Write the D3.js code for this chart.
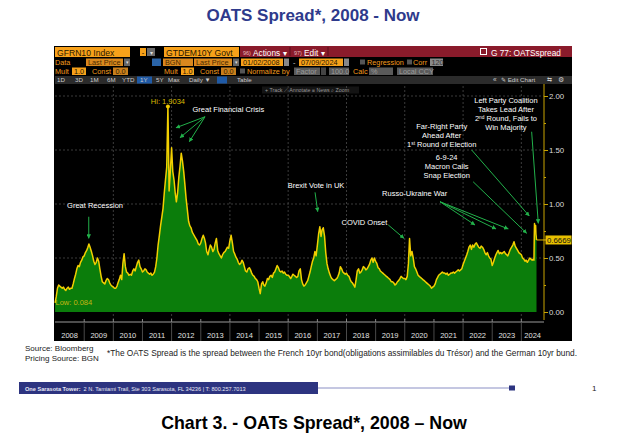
<!DOCTYPE html>
<html><head><meta charset="utf-8">
<script src="https://cdn.jsdelivr.net/npm/d3@7"></script>
<style>body{margin:0;background:#fff}svg{display:block;font-family:"Liberation Sans",Arial,sans-serif}</style>
</head><body><svg id="c" width="632" height="446"></svg>
<script>
// ---------- DATA (semi-monthly readings: 1st and 16th of each month) ----------
const spread2008 = [0.084,0.14,0.22,0.25,0.24,0.23,0.22,0.23,0.21,0.20,0.22,0.23,0.21,0.22,0.22,0.26,0.31,0.35,0.40,0.43,0.42,0.46,0.48,0.51];
const spread2009 = [0.52,0.55,0.57,0.60,0.63,0.60,0.56,0.52,0.47,0.44,0.46,0.50,0.47,0.40,0.33,0.28,0.27,0.26,0.29,0.31,0.30,0.27,0.25,0.24];
const spread2010 = [0.23,0.22,0.22,0.24,0.27,0.30,0.34,0.30,0.45,0.54,0.42,0.37,0.36,0.34,0.35,0.34,0.38,0.40,0.38,0.42,0.46,0.48,0.42,0.40];
const spread2011 = [0.37,0.38,0.40,0.39,0.37,0.36,0.35,0.36,0.34,0.35,0.37,0.42,0.50,0.62,0.71,0.80,0.88,0.96,1.10,1.22,1.34,1.9034,1.12,1.30];
const spread2012 = [1.52,1.30,1.22,1.10,1.02,1.10,1.25,1.35,1.47,1.40,1.30,1.18,1.05,0.95,0.84,0.80,0.78,0.74,0.72,0.70,0.68,0.66,0.63,0.62];
const spread2013 = [0.64,0.68,0.71,0.68,0.64,0.56,0.53,0.58,0.62,0.60,0.56,0.58,0.64,0.68,0.57,0.54,0.52,0.50,0.53,0.55,0.56,0.58,0.60,0.59];
const spread2014 = [0.66,0.71,0.64,0.56,0.54,0.51,0.49,0.46,0.44,0.45,0.48,0.46,0.42,0.38,0.37,0.40,0.41,0.39,0.36,0.34,0.33,0.31,0.30,0.28];
const spread2015 = [0.22,0.17,0.26,0.28,0.25,0.24,0.27,0.31,0.30,0.33,0.34,0.32,0.36,0.37,0.40,0.43,0.41,0.38,0.37,0.38,0.36,0.37,0.35,0.34];
const spread2016 = [0.34,0.33,0.31,0.33,0.35,0.34,0.33,0.32,0.33,0.38,0.40,0.30,0.26,0.24,0.25,0.27,0.29,0.33,0.37,0.42,0.47,0.50,0.56,0.52];
const spread2017 = [0.62,0.72,0.79,0.70,0.76,0.78,0.70,0.55,0.45,0.40,0.36,0.33,0.31,0.30,0.29,0.30,0.31,0.33,0.36,0.42,0.40,0.37,0.36,0.35];
const spread2018 = [0.36,0.34,0.33,0.30,0.28,0.27,0.25,0.23,0.30,0.38,0.40,0.36,0.37,0.39,0.42,0.41,0.39,0.40,0.42,0.44,0.48,0.50,0.46,0.50];
const spread2019 = [0.47,0.45,0.41,0.40,0.38,0.37,0.36,0.35,0.34,0.33,0.32,0.31,0.30,0.28,0.28,0.27,0.25,0.26,0.28,0.29,0.31,0.33,0.32,0.31];
const spread2020 = [0.31,0.30,0.33,0.45,0.68,0.52,0.56,0.50,0.42,0.40,0.37,0.34,0.33,0.32,0.31,0.30,0.29,0.28,0.27,0.26,0.25,0.24,0.22,0.23];
const spread2021 = [0.24,0.26,0.30,0.32,0.34,0.35,0.36,0.37,0.36,0.36,0.35,0.36,0.34,0.35,0.36,0.36,0.37,0.36,0.37,0.38,0.39,0.38,0.39,0.40];
const spread2022 = [0.44,0.47,0.50,0.53,0.56,0.60,0.62,0.58,0.62,0.60,0.63,0.64,0.62,0.60,0.59,0.61,0.60,0.58,0.55,0.53,0.55,0.52,0.50,0.49];
const spread2023 = [0.43,0.46,0.50,0.53,0.55,0.57,0.54,0.55,0.54,0.55,0.56,0.54,0.53,0.52,0.55,0.58,0.60,0.62,0.65,0.61,0.59,0.57,0.55,0.54];
const spread2024 = [0.53,0.50,0.49,0.47,0.48,0.46,0.48,0.50,0.49,0.48,0.49];
const finalDates  = ["2024-06-07","2024-06-11","2024-06-14","2024-06-21","2024-06-28","2024-07-02","2024-07-05","2024-07-09"];
const finalValues = [0.48,0.70,0.82,0.76,0.80,0.72,0.70,0.6669];

const yearLabels  = ["2008","2009","2010","2011","2012","2013","2014","2015","2016","2017","2018","2019","2020","2021","2022","2023","2024"];
const yTicks      = [0,0.5,1,1.5,2];
const yTickLabels = ["0.00","0.50","1.00","1.50","2.00"];
const yMinorTicks = [0.25,0.75,1.25,1.75];
const gridYears   = [2010,2012,2014,2016,2018,2020,2022,2024];
const hiValue = 1.9034, lowValue = 0.084, lastValue = 0.6669;

const mainTitle = "OATS Spread*, 2008 - Now";
const chartCaption = "Chart 3. - OATs Spread*, 2008 \u2013 Now";
const footnote = "*The OATS Spread is the spread between the French 10yr bond(obligations assimilables du Trésor) and the German 10yr bund.";

// annotations in data space: t = decimal year, v = spread
const annoTexts = [
  {lines:["Great Recession"], t:2009.372, v:0.963},
  {lines:["Great Financial Crisis"], t:2013.945, v:1.852},
  {lines:["Brexit Vote in UK"], t:2016.954, v:1.148},
  {lines:["COVID Onset"], t:2018.617, v:0.810},
  {lines:["Russo-Ukraine War"], t:2020.339, v:1.074},
  {lines:["6-9-24","Macron Calls","Snap Election"], t:2021.437, v:1.403},
  {lines:["Far-Right Party","Ahead After","1^st^ Round of Election"], t:2021.266, v:1.690},
  {lines:["Left Party Coalition","Takes Lead After","2^nd^ Round, Fails to","Win Majority"], t:2023.472, v:1.931}
];
const annoArrows = [
  [2009.156,0.882,2009.156,0.682],
  [2013.146,1.808,2012.151,1.706],[2013.146,1.808,2012.288,1.614],[2013.146,1.808,2012.607,1.577],
  [2016.920,1.108,2017.012,0.929],
  [2019.434,0.806,2019.973,0.682],
  [2021.207,1.021,2022.408,0.806],[2021.207,1.021,2023.129,0.769],[2021.207,1.021,2023.551,0.769],
  [2022.345,1.206,2024.182,0.729],
  [2022.295,1.500,2024.271,0.889],
  [2024.353,1.669,2024.580,0.821]
];

// ---------- BUILD SERIES ----------
const yearly = [spread2008,spread2009,spread2010,spread2011,spread2012,spread2013,spread2014,spread2015,spread2016,spread2017,spread2018,spread2019,spread2020,spread2021,spread2022,spread2023,spread2024];
const parse = d3.timeParse("%Y-%m-%d");
const series = [];
yearly.forEach((arr,i)=>{
  const yr = 2008+i;
  arr.forEach((v,k)=>{
    const d = new Date(yr, Math.floor(k/2), k%2 ? 16 : (i===0&&k===0?2:1));
    series.push({d, v});
  });
});
finalDates.forEach((s,i)=>series.push({d:parse(s), v:finalValues[i]}));

function decYear(t){const y=Math.floor(t);const a=new Date(y,0,1),b=new Date(y+1,0,1);return new Date(+a+(t-y)*(b-a));}

// ---------- SCALES ----------
const x = d3.scaleTime().domain([new Date(2008,0,1), new Date(2025,0,1)]).range([55, 55+29.15*17]);
const y = d3.scaleLinear().domain([0,2]).range([312,96]);
const axisX = 544, plotTop = 84, plotBottom = 322;

const svg = d3.select("#c");
svg.append("rect").attr("width",632).attr("height",446).attr("fill","#fff");

// titles / page text
svg.append("text").attr("x",313).attr("y",20.5).attr("text-anchor","middle").attr("font-size",17).attr("font-weight","bold").attr("fill","#2e3a8c").text(mainTitle);
svg.append("text").attr("x",314).attr("y",428.5).attr("text-anchor","middle").attr("font-size",17.8).attr("font-weight","bold").attr("fill","#000").text(chartCaption);
svg.append("text").attr("x",25).attr("y",351).attr("font-size",8).attr("fill","#222").text("Source: Bloomberg");
svg.append("text").attr("x",25).attr("y",360.5).attr("font-size",8).attr("fill","#222").text("Pricing Source: BGN");
svg.append("text").attr("x",107).attr("y",355.5).attr("font-size",8.2).attr("fill","#222").attr("textLength",470).attr("lengthAdjust","spacingAndGlyphs").text(footnote);
// footer
svg.append("rect").attr("x",19).attr("y",382).attr("width",299).attr("height",12).attr("fill","#2d3480");
svg.append("line").attr("x1",318).attr("x2",510).attr("y1",388).attr("y2",388).attr("stroke","#8a8fc4").attr("stroke-width",1);
svg.append("rect").attr("x",509).attr("y",385.5).attr("width",6).attr("height",5).attr("fill","#2d3480");
svg.append("text").attr("x",592).attr("y",391).attr("font-size",8).attr("fill","#222").text("1");
const ft = svg.append("text").attr("x",25).attr("y",390.5).attr("font-size",5.6).attr("fill","#e8e8f4");
ft.append("tspan").attr("font-weight","bold").text("One Sarasota Tower:");
ft.append("tspan").attr("dx",3).text("2 N. Tamiami Trail, Ste 303  Sarasota, FL 34236    |    T: 800.257.7013");

// black panel
svg.append("rect").attr("x",54).attr("y",46).attr("width",518).attr("height",295).attr("fill","#000");

// ---------- HEADER ----------
const hdr = svg.append("g");
function R(x0,y0,w,h,fill){return hdr.append("rect").attr("x",x0).attr("y",y0).attr("width",w).attr("height",h).attr("fill",fill);}
function T(x0,y0,s,o={}){return hdr.append("text").attr("x",x0).attr("y",y0).attr("font-size",o.size||7.3).attr("fill",o.fill||"#f29b1c").attr("font-weight",o.weight||"normal").attr("text-anchor",o.anchor||"start").text(s);}
// row 1
R(240,46,332,11,"#8a1b2b");
R(55,47,75,10,"#f7a11a"); T(57,55.5,"GFRN10 Index",{size:8.6,fill:"#2a1800"});
R(140,48,6,8,"#f7a11a"); T(143,55,"-",{fill:"#000",anchor:"middle"});
R(147,48,8,8,"#6b6b6b"); T(151,54.5,"▾",{size:6,fill:"#ddd",anchor:"middle"});
R(164,47,75,10,"#f7a11a"); T(166,55.5,"GTDEM10Y Govt",{size:8.6,fill:"#2a1800"});
T(243,55.3,"96)",{size:5.5,fill:"#e6b8bd"}); T(253,55.5,"Actions ▾",{size:8.3,fill:"#fff"});
hdr.append("line").attr("x1",290).attr("x2",290).attr("y1",47).attr("y2",56).attr("stroke","#5a0f1a");
T(294,55.3,"97)",{size:5.5,fill:"#e6b8bd"}); T(304,55.5,"Edit ▾",{size:8.3,fill:"#fff"});
hdr.append("line").attr("x1",328).attr("x2",328).attr("y1",47).attr("y2",56).attr("stroke","#5a0f1a");
hdr.append("rect").attr("x",480.5).attr("y",48.5).attr("width",6).attr("height",6).attr("fill","none").attr("stroke","#fff").attr("stroke-width",1);
T(491,55.5,"G 77: OATSspread",{size:8.3,fill:"#fff"});
// row 2
T(55,64.5,"Data");
R(86,58.5,37,7.5,"#d9881e"); T(88,64.5,"Last Price",{fill:"#4a2a00"});
R(124,58.5,6,7.5,"#666"); T(127,64,"▾",{size:5,fill:"#ddd",anchor:"middle"});
R(152,58.5,9,7.5,"#2a64a8");
R(163,58.5,30,7.5,"#d9881e"); T(165,64.5,"BGN",{fill:"#4a2a00"});
R(194,58.5,38,7.5,"#d9881e"); T(196,64.5,"Last Price",{fill:"#4a2a00"});
R(233,58.5,6,7.5,"#666"); T(236,64,"▾",{size:5,fill:"#ddd",anchor:"middle"});
R(241,58.5,42,7.5,"#f7a11a"); T(243,64.5,"01/02/2008",{fill:"#2a1800"});
R(284,58.5,5,7.5,"#888");
T(293,64.5,"-",{fill:"#ccc"});
R(299,58.5,44,7.5,"#f7a11a"); T(301,64.5,"07/09/2024",{fill:"#2a1800"});
R(344,58.5,5,7.5,"#888");
R(360,59.5,5,5,"#555"); T(367,64.5,"Regression");
R(407,59.5,5,5,"#555"); T(413,64.5,"Corr");
R(430,58.5,13,7.5,"#8a8a8a"); T(431.5,64.5,"120",{fill:"#333"});
// row 3
T(55,73.5,"Mult");
R(72,67.5,14,7.5,"#f7a11a"); T(79,73.5,"1.0",{fill:"#2a1800",anchor:"middle"});
T(92,73.5,"Const");
R(113,67.5,15,7.5,"#c97f1c"); T(120.5,73.5,"0.0",{fill:"#3a2000",anchor:"middle"});
T(164,73.5,"Mult");
R(181,67.5,13,7.5,"#f7a11a"); T(187.5,73.5,"1.0",{fill:"#2a1800",anchor:"middle"});
T(200,73.5,"Const");
R(221,67.5,15,7.5,"#c97f1c"); T(228.5,73.5,"0.0",{fill:"#3a2000",anchor:"middle"});
R(240,68.5,5,5,"#555"); T(247,73.5,"Normalize by");
R(294,67.5,26,7.5,"#5a5a5a"); T(296,73.5,"Factor",{fill:"#9a9a9a"}); R(321,67.5,5,7.5,"#444");
R(329,67.5,20,7.5,"#5a5a5a"); T(331,73.5,"100.0",{fill:"#9a9a9a"});
T(353,73.5,"Calc");
R(369,67.5,24,7.5,"#5a5a5a"); T(371,73.5,"%",{fill:"#9a9a9a"});
R(397,67.5,36,7.5,"#5a5a5a"); T(399,73.5,"Local CCY",{fill:"#9a9a9a"});
// row 4
R(55,76,517,8,"#2b2b2b");
R(137,76.5,15,7,"#1f5aa6"); R(217,76.5,10,7,"#1f5aa6");
[["1D",57],["3D",75],["1M",90],["6M",107],["YTD",122],["1Y",140],["5Y",156],["Max",168],["Daily ▼",189],["Table",237]].forEach(b=>T(b[1],82.3,b[0],{size:6.2,fill:"#cfcfcf"}));
T(493,82.3,"«",{size:6.5,fill:"#ccc"}); T(501,82.3,"✎ Edit Chart",{size:6.2,fill:"#ccc"});
T(547,82.3,"⇆",{size:6,fill:"#ccc"}); T(558,82.3,"⚙",{size:6.5,fill:"#ccc"});
// mini toolbar
R(262,86.5,97,7,"#141414");
T(265,92,"+ Track    ⟋ Annotate    ≡ News    ⌕ Zoom",{size:5.3,fill:"#9a9a9a"});

// ---------- PLOT ----------
const g = svg.append("g");
g.selectAll(".hg").data(yTicks.filter(v=>v>0)).join("line")
  .attr("x1",55).attr("x2",axisX).attr("y1",d=>y(d)).attr("y2",d=>y(d))
  .attr("stroke","#4a4a4a").attr("stroke-dasharray","2,2").attr("stroke-width",0.8);
g.selectAll(".vg").data(gridYears).join("line")
  .attr("x1",d=>x(new Date(d,0,1))).attr("x2",d=>x(new Date(d,0,1)))
  .attr("y1",plotTop+2).attr("y2",plotBottom-2)
  .attr("stroke","#4a4a4a").attr("stroke-dasharray","2,2").attr("stroke-width",0.8);

g.append("path").datum(series)
  .attr("d",d3.area().x(d=>x(d.d)).y0(y(0)).y1(d=>y(d.v)))
  .attr("fill","#0b7d0b");
g.append("path").datum(series)
  .attr("d",d3.line().x(d=>x(d.d)).y(d=>y(d.v)))
  .attr("fill","none").attr("stroke","#f2cf00").attr("stroke-width",1.5).attr("stroke-linejoin","round");

const hiPt = series.reduce((a,b)=>b.v>a.v?b:a);
g.append("circle").attr("cx",x(hiPt.d)).attr("cy",y(hiPt.v)).attr("r",2).attr("fill","#f0cc00");
g.append("text").attr("x",x(hiPt.d)).attr("y",y(hiPt.v)-2.5).attr("text-anchor","middle").attr("font-size",7.5).attr("fill","#d8bc00").text("Hi: "+hiValue.toFixed(4));
g.append("text").attr("x",55.5).attr("y",y(lowValue)+2.5).attr("font-size",7.5).attr("fill","#c4b614").text("Low: "+lowValue.toFixed(3));

g.append("line").attr("x1",axisX).attr("x2",axisX).attr("y1",plotTop).attr("y2",plotBottom-2).attr("stroke","#c9a400").attr("stroke-width",1);
const ax = g.append("g").attr("transform",`translate(${axisX},0)`)
  .call(d3.axisRight(y).tickValues(yTicks).tickFormat((d,i)=>yTickLabels[i]).tickSize(4).tickPadding(1));
ax.select(".domain").remove();
ax.selectAll("line").attr("stroke","#c9a400");
ax.selectAll("text").attr("font-size",7.8).attr("fill","#dcdcdc").attr("font-family","Liberation Sans, Arial, sans-serif");
const axm = g.append("g").attr("transform",`translate(${axisX},0)`)
  .call(d3.axisRight(y).tickValues(yMinorTicks).tickFormat("").tickSize(2));
axm.select(".domain").remove();
axm.selectAll("line").attr("stroke","#c9a400");

const last = series[series.length-1];
g.append("line").attr("x1",x(last.d)).attr("x2",axisX+2).attr("y1",y(last.v)).attr("y2",y(last.v)).attr("stroke","#e0b800").attr("stroke-width",1);
g.append("rect").attr("x",545.5).attr("y",y(last.v)-4.5).attr("width",26).attr("height",9).attr("fill","#e8c000");
g.append("text").attr("x",547).attr("y",y(last.v)+2.8).attr("font-size",7.8).attr("fill","#111").text(lastValue.toFixed(4));

g.append("line").attr("x1",55).attr("x2",axisX).attr("y1",plotBottom).attr("y2",plotBottom).attr("stroke","#9a9a9a").attr("stroke-width",1);
const yrs = yearLabels.map(s=>+s);
g.selectAll(".yt").data(yrs.slice(1)).join("line")
  .attr("x1",d=>x(new Date(d,0,1))).attr("x2",d=>x(new Date(d,0,1)))
  .attr("y1",plotBottom-3).attr("y2",plotBottom).attr("stroke","#888");
g.selectAll(".ys").data(yrs.slice(1)).join("line")
  .attr("x1",d=>x(new Date(d,0,1))).attr("x2",d=>x(new Date(d,0,1)))
  .attr("y1",plotBottom+1).attr("y2",341).attr("stroke","#4a4a4a");
g.selectAll(".yl").data(yrs).join("text")
  .attr("x",d=>(x(new Date(d,0,1))+Math.min(x(new Date(d+1,0,1)),axisX))/2)
  .attr("y",338).attr("text-anchor","middle").attr("font-size",7.5).attr("fill","#e0e0e0")
  .text((d,i)=>yearLabels[i]);

// ---------- ANNOTATIONS ----------
svg.append("defs").append("marker").attr("id","ah").attr("viewBox","0 0 6 6").attr("refX",5.5).attr("refY",3)
  .attr("markerWidth",4.5).attr("markerHeight",4.5).attr("markerUnits","userSpaceOnUse").attr("orient","auto")
  .append("path").attr("d","M0,0L6,3L0,6z").attr("fill","#22b04a");
g.selectAll(".ar").data(annoArrows).join("line")
  .attr("x1",d=>x(decYear(d[0]))).attr("y1",d=>y(d[1]))
  .attr("x2",d=>x(decYear(d[2]))).attr("y2",d=>y(d[3]))
  .attr("stroke","#22b04a").attr("stroke-width",1).attr("marker-end","url(#ah)");
annoTexts.forEach(a=>{
  const tx = x(decYear(a.t)), ty = y(a.v);
  a.lines.forEach((ln,i)=>{
    const t = g.append("text").attr("x",tx).attr("y",ty+i*9).attr("text-anchor","middle").attr("font-size",7.5).attr("fill","#fff");
    ln.split("^").forEach((part,j)=>{
      if(!part) return;
      const sp = t.append("tspan").text(part);
      if(j%2===1) sp.attr("font-size",4.8).attr("dy",-2.5);
      else if(j>0) sp.attr("dy",2.5);
    });
  });
});
</script></body></html>
